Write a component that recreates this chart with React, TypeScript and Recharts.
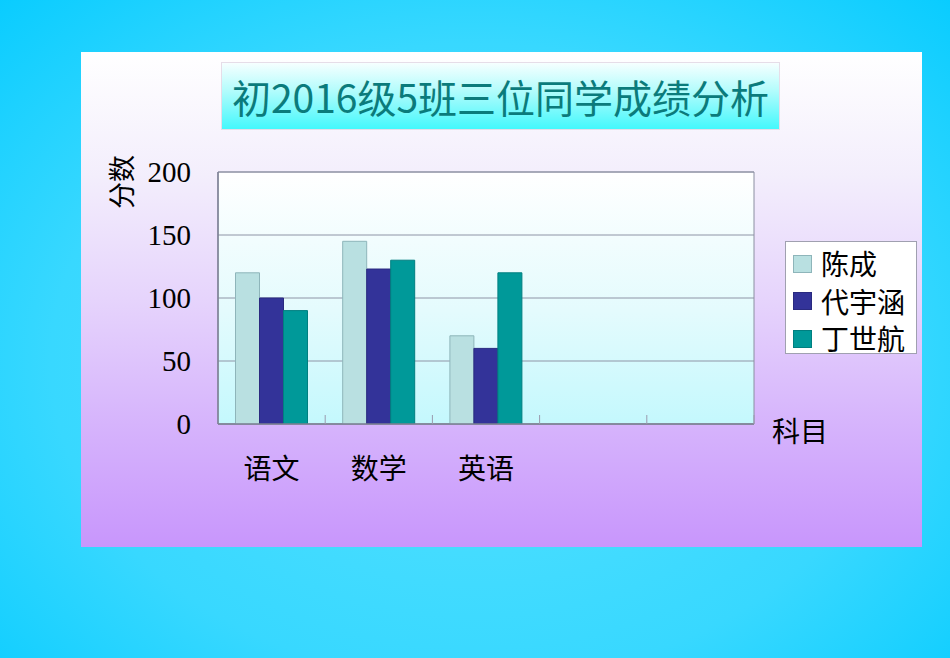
import React from 'react';
import {
  BarChart,
  Bar,
  XAxis,
  YAxis,
  CartesianGrid,
  ReferenceArea,
} from 'recharts';

// subjects (the last two slots are empty in the original)
const subjects = ['语文', '数学', '英语', '', ' '];
const chenCheng = [120, 145, 70, null, null];
const daiYuhan = [100, 123, 60, null, null];
const dingShihang = [90, 130, 120, null, null];
const yTicks = [0, 50, 100, 150, 200];

const series = [
  { key: 'chen', name: '陈成', fill: '#b9e0e1', stroke: '#8eb5ba' },
  { key: 'dai', name: '代宇涵', fill: '#333399', stroke: '#2a2a80' },
  { key: 'ding', name: '丁世航', fill: '#009999', stroke: '#007f80' },
];

const data = subjects.map((s, i) => ({
  subject: s,
  chen: chenCheng[i],
  dai: daiYuhan[i],
  ding: dingShihang[i],
}));

const W = 950;
const H = 658;
const PLOT_LEFT = 218;
const PLOT_RIGHT = 754;
const PLOT_TOP = 172;
const PLOT_BOTTOM = 424;
const Y_AXIS_W = 80;
const X_AXIS_H = 70;
const BAND = (PLOT_RIGHT - PLOT_LEFT) / subjects.length;

const serif = '"Liberation Serif", "Noto Sans CJK SC", serif';
const cjk = '"Noto Sans CJK SC", "Liberation Serif", serif';

const XTick = (props: any) => {
  const { x, y, payload } = props;
  return (
    <g>
      <line x1={x + BAND / 2} x2={x + BAND / 2} y1={y} y2={y - 9} stroke="#9a9aae" />
      <text
        x={x}
        y={y + 43}
        textAnchor="middle"
        dominantBaseline="central"
        fontSize={28}
        fontFamily={cjk}
        fill="#000"
      >
        {payload.value}
      </text>
    </g>
  );
};

const LegendBox = () => (
  <div
    style={{
      position: 'absolute',
      left: 785,
      top: 241,
      width: 132,
      height: 113,
      background: '#fff',
      border: '1px solid #a0a0b0',
      boxSizing: 'border-box',
      padding: '3px 0 0 7px',
    }}
  >
    {series.map(s => (
      <div key={s.key} style={{ display: 'flex', alignItems: 'center', height: 37.5 }}>
        <div
          style={{
            width: 19,
            height: 18,
            background: s.fill,
            border: `1px solid ${s.stroke}`,
            boxSizing: 'border-box',
            marginRight: 9,
          }}
        />
        <span style={{ fontFamily: cjk, fontSize: 28, color: '#000', lineHeight: '37px' }}>{s.name}</span>
      </div>
    ))}
  </div>
);

export default function App() {
  return (
    <div
      style={{
        position: 'absolute',
        left: 0,
        top: 0,
        width: W,
        height: H,
        overflow: 'hidden',
        background:
          'radial-gradient(ellipse 72% 78% at 50% 55%, #56e2ff 0%, #38d8ff 62%, #08ccff 100%)',
      }}
    >
      {/* slide panel */}
      <div
        style={{
          position: 'absolute',
          left: 81,
          top: 52,
          width: 841,
          height: 495,
          background:
            'linear-gradient(180deg, #ffffff 0%, #f3eefc 25%, #e6d4fc 50%, #d6b4fc 75%, #c896fc 100%)',
        }}
      />
      {/* title box */}
      <div
        style={{
          position: 'absolute',
          left: 221,
          top: 62,
          width: 559,
          height: 68,
          boxSizing: 'border-box',
          border: '1px solid #e6dde8',
          background: 'linear-gradient(180deg, #f6ffff 0%, #b6fcfc 40%, #44f8fc 100%)',
          display: 'flex',
          alignItems: 'center',
          justifyContent: 'center',
          fontFamily: cjk,
          fontSize: 39,
          fontWeight: 400,
          color: '#0b7b7b',
          whiteSpace: 'nowrap',
        }}
      >
        初2016级5班三位同学成绩分析
      </div>
      {/* y axis title */}
      <div
        style={{
          position: 'absolute',
          left: 121,
          top: 182,
          transform: 'translate(-50%, -50%) rotate(-90deg)',
          fontFamily: cjk,
          fontSize: 27,
          color: '#000',
          whiteSpace: 'nowrap',
          lineHeight: '28px',
        }}
      >
        分数
      </div>
      {/* x axis title */}
      <div
        style={{
          position: 'absolute',
          left: 772,
          top: 413,
          fontFamily: cjk,
          fontSize: 28,
          color: '#000',
          whiteSpace: 'nowrap',
          lineHeight: '34px',
        }}
      >
        科目
      </div>
      <div style={{ position: 'absolute', left: 0, top: 0 }}>
        <BarChart
          width={W}
          height={H}
          data={data}
          margin={{
            top: PLOT_TOP,
            right: W - PLOT_RIGHT,
            bottom: H - PLOT_BOTTOM - X_AXIS_H,
            left: PLOT_LEFT - Y_AXIS_W,
          }}
          barGap={0}
          barCategoryGap={17.5}
        >
          <defs>
            <linearGradient id="plotBg" x1="0" y1="0" x2="0" y2="1">
              <stop offset="0%" stopColor="#ffffff" />
              <stop offset="55%" stopColor="#e4fbfd" />
              <stop offset="100%" stopColor="#c4f8fd" />
            </linearGradient>
          </defs>
          <CartesianGrid
            vertical={false}
            stroke="#8e94a6"
            fill="url(#plotBg)"
            fillOpacity={1}
          />
          <XAxis
            dataKey="subject"
            height={X_AXIS_H}
            tickLine={false}
            tickSize={0}
            tickMargin={0}
            axisLine={{ stroke: '#7e8296', strokeWidth: 1.5 }}
            tick={<XTick />}
            interval={0}
          />
          <YAxis
            width={Y_AXIS_W}
            domain={[0, 200]}
            ticks={yTicks}
            tickLine={false}
            tickSize={0}
            tickMargin={27}
            axisLine={{ stroke: '#7e8296', strokeWidth: 1.5 }}
            tick={{ fontSize: 29, fontFamily: serif, fill: '#000' }}
            allowDataOverflow
          />
          <ReferenceArea y1={0} y2={200} fill="none" stroke="#8a8ea0" strokeWidth={1} />
          {series.map(s => (
            <Bar
              key={s.key}
              dataKey={s.key}
              name={s.name}
              fill={s.fill}
              stroke={s.stroke}
              strokeWidth={1}
              isAnimationActive={false}
            />
          ))}
        </BarChart>
      </div>
      <LegendBox />
    </div>
  );
}
